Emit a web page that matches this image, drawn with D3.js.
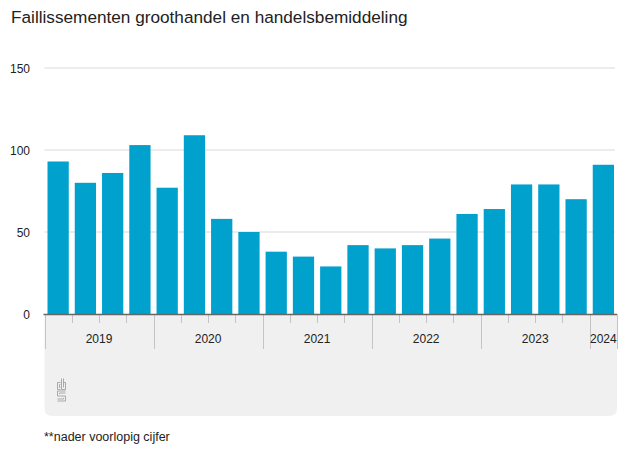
<!DOCTYPE html>
<html>
<head>
<meta charset="utf-8">
<script src="https://cdn.jsdelivr.net/npm/d3@7"></script>
<style>
  body { margin: 0; background: #fff; }
  svg text { font-family: "Liberation Sans", Arial, sans-serif; fill: #222; }
</style>
</head>
<body>
<svg id="chart"></svg>
<script>
// quarterly bankruptcies, wholesale trade and trade intermediation
const quarters = [
  "2019 K1", "2019 K2", "2019 K3", "2019 K4",
  "2020 K1", "2020 K2", "2020 K3", "2020 K4",
  "2021 K1", "2021 K2", "2021 K3", "2021 K4",
  "2022 K1", "2022 K2", "2022 K3", "2022 K4",
  "2023 K1", "2023 K2", "2023 K3", "2023 K4",
  "2024 K1"
];
const values = [93, 80, 86, 103, 77, 109, 58, 50, 38, 35, 29, 42, 40, 42, 46, 61, 64, 79, 79, 70, 91];
const years = ["2019", "2020", "2021", "2022", "2023", "2024"];
const yTicks = [0, 50, 100, 150];

const width = 627, height = 470;
const margin = {top: 68, right: 10, bottom: 156, left: 44.5};
const plotRight = 617;
const y0 = height - margin.bottom; // 314

const svg = d3.select("#chart").attr("width", width).attr("height", height);

svg.append("text")
  .attr("x", 11).attr("y", 23)
  .style("font-size", "17.2px")
  .text("Faillissementen groothandel en handelsbemiddeling");

const x = d3.scaleBand()
  .domain(quarters)
  .range([margin.left, plotRight])
  .paddingInner(0.22)
  .paddingOuter(0.11);

const y = d3.scaleLinear().domain([0, 150]).range([y0, margin.top]);

// gray category panel with rounded bottom corners
const panelBottom = 416, r = 8;
const p = d3.path();
p.moveTo(margin.left, y0);
p.lineTo(plotRight, y0);
p.lineTo(plotRight, panelBottom - r);
p.quadraticCurveTo(plotRight, panelBottom, plotRight - r, panelBottom);
p.lineTo(margin.left + r, panelBottom);
p.quadraticCurveTo(margin.left, panelBottom, margin.left, panelBottom - r);
p.closePath();
svg.append("path").attr("d", p.toString()).attr("fill", "#f0f0f0");

// grid
svg.append("g").selectAll("line")
  .data(yTicks.filter(d => d > 0))
  .enter().append("line")
    .attr("x1", margin.left).attr("x2", plotRight - 2)
    .attr("y1", d => y(d)).attr("y2", d => y(d))
    .attr("stroke", "#d9d9d9").attr("stroke-width", 1);

svg.append("g").selectAll("text")
  .data(yTicks)
  .enter().append("text")
    .attr("x", 30).attr("y", d => y(d) + 4.5)
    .attr("text-anchor", "end")
    .style("font-size", "12px")
    .text(d => d);

// bars
svg.append("g").selectAll("rect")
  .data(values)
  .enter().append("rect")
    .attr("x", (d, i) => x(quarters[i]))
    .attr("y", d => y(d))
    .attr("width", x.bandwidth())
    .attr("height", d => y0 - y(d))
    .attr("fill", "#00a1cd");

// quarter ticks and year separators
const step = x.step();
const bounds = quarters.map((q, i) => ({
  x: margin.left + i * step,
  yearStart: i === 0 || q.slice(0, 4) !== quarters[i - 1].slice(0, 4)
}));
bounds.push({x: margin.left + quarters.length * step, yearStart: true});

svg.append("g").selectAll("line")
  .data(bounds)
  .enter().append("line")
    .attr("x1", d => Math.round(d.x) + 0.5).attr("x2", d => Math.round(d.x) + 0.5)
    .attr("y1", y0).attr("y2", d => d.yearStart ? 349 : 323)
    .attr("stroke", "#c4c4c4").attr("stroke-width", 1);

// year labels
svg.append("g").selectAll("text")
  .data(years)
  .enter().append("text")
    .attr("x", yr => {
      const qs = quarters.filter(q => q.startsWith(yr));
      return (x(qs[0]) - step * 0.11 + x(qs[qs.length - 1]) + x.bandwidth() + step * 0.11) / 2;
    })
    .attr("y", 343)
    .attr("text-anchor", "middle")
    .style("font-size", "12px")
    .text(d => d);

// axis line
svg.append("line")
  .attr("x1", margin.left - 1).attr("x2", plotRight)
  .attr("y1", y0 + 0.5).attr("y2", y0 + 0.5)
  .attr("stroke", "#666").attr("stroke-width", 1.5);

// cbs logo
const logo = svg.append("g").attr("transform", "translate(57,378)")
  .attr("fill", "none").attr("stroke", "#a0a0a0").attr("stroke-width", 0.9);
logo.append("path").attr("d", "M3.5,4.5 H0.5 V11.5 H3.5 M3.5,6.5 H2.5 V9.5 H3.5");
logo.append("path").attr("d", "M4.5,0.5 V11.5 H8.5 V4.5 H6.5 M6.5,0.5 V9.5");
logo.append("path").attr("d", "M8.5,13 H0.5 V18 H8.5 V23 H0.5 M8.5,15 H2.5 V16 M0.5,21 H6.5 V20");

svg.append("text")
  .attr("x", 44).attr("y", 441)
  .style("font-size", "12.5px")
  .text("**nader voorlopig cijfer");
</script>
</body>
</html>
